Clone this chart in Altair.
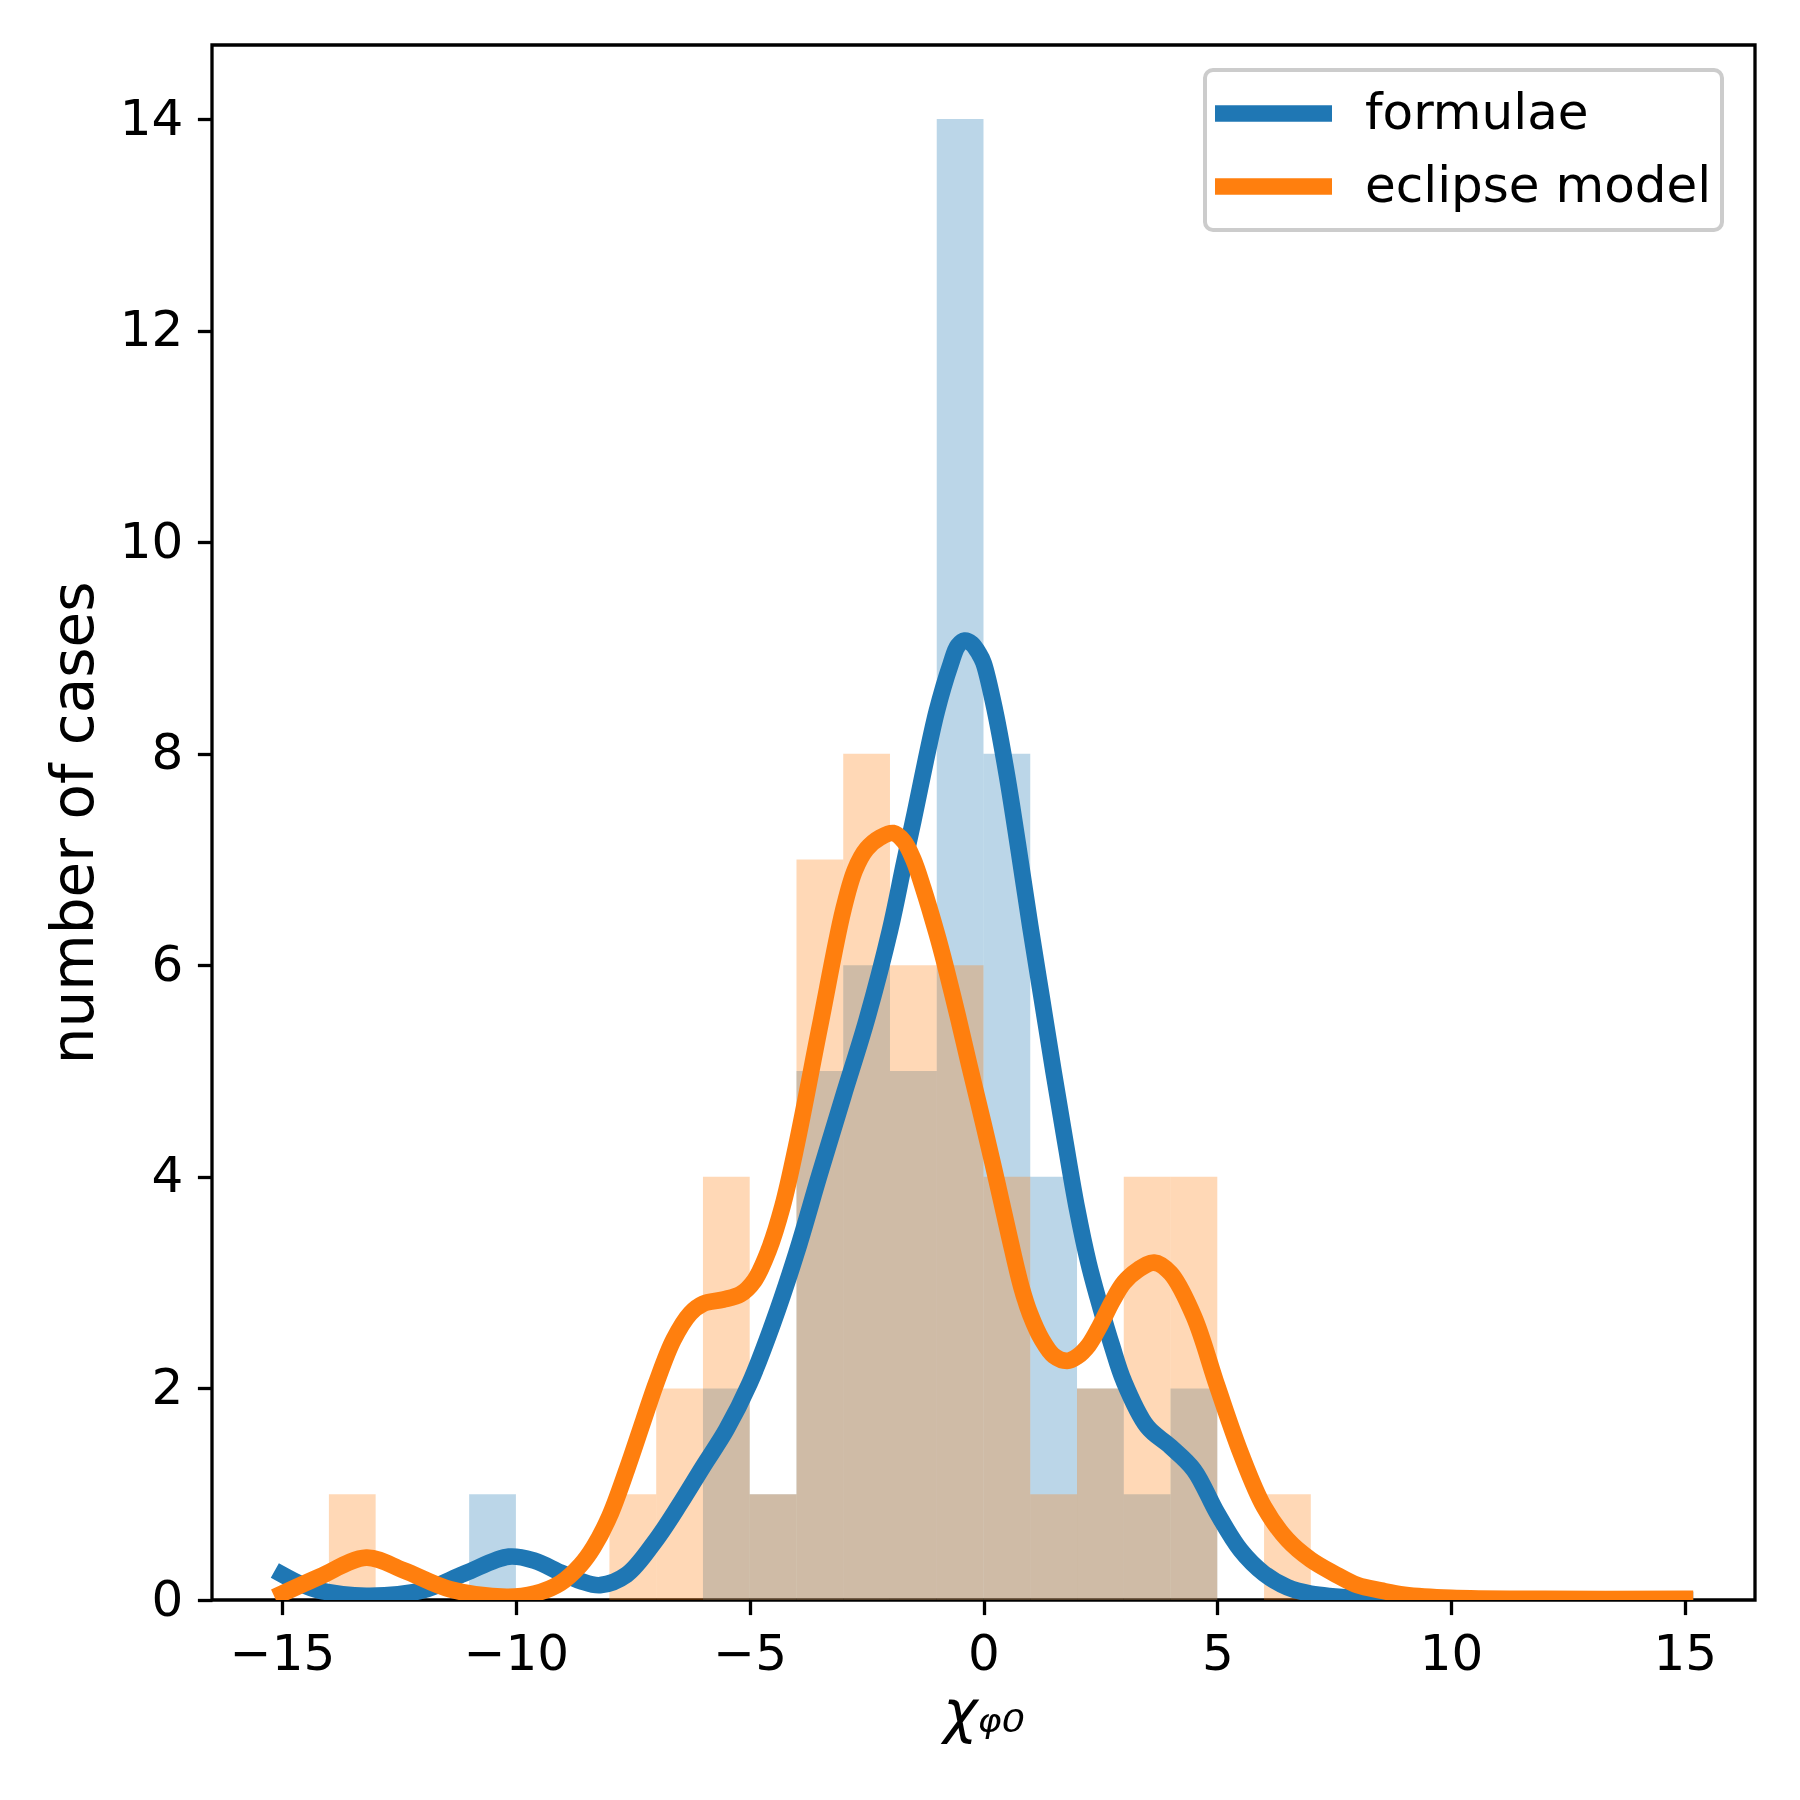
import altair as alt
import pandas as pd

# ---- histogram data (bin width 1, left edges) ----
bin_left = [-15, -14, -13, -12, -11, -10, -9, -8, -7, -6, -5, -4, -3, -2, -1, 0, 1, 2, 3, 4, 5, 6]
formulae_counts = [0, 0, 0, 0, 1, 0, 0, 0, 0, 2, 1, 5, 6, 5, 14, 8, 4, 2, 1, 2, 0, 0]
eclipse_counts = [0, 1, 0, 0, 0, 0, 0, 1, 2, 4, 1, 7, 8, 6, 6, 4, 1, 2, 4, 4, 0, 1]

# ---- smoothed curves ----
formulae_x = [-15, -14.6, -14.2, -13.2, -12.0, -11.1, -10.15, -9.6, -9.05, -8.62, -8.2, -7.63,
              -7.0, -6.49, -6.0, -5.5, -5.0, -4.5, -4.0, -3.5, -3.0, -2.5, -2.0, -1.7, -1.5, -1.0,
              -0.7, -0.55, -0.4, -0.25, -0.1, 0.0, 0.25, 0.5, 0.75, 1.0, 1.25, 1.5, 1.75, 2.0, 2.25, 2.5, 2.75,
              3.0, 3.5, 4.0, 4.5, 5.0, 5.5, 6.0, 6.5, 7.0, 8.0, 9.0, 10.0, 12.0, 15.0]
formulae_y = [0.24, 0.15, 0.09, 0.04, 0.09, 0.25, 0.41, 0.37, 0.26, 0.18, 0.14, 0.24,
              0.57, 0.91, 1.26, 1.61, 2.05, 2.62, 3.28, 4.03, 4.76, 5.48, 6.33, 6.96, 7.37, 8.4,
              8.85, 9.02, 9.07, 9.04, 8.95, 8.86, 8.4, 7.8, 7.1, 6.37, 5.68, 4.99, 4.33, 3.7, 3.18, 2.77, 2.4,
              2.07, 1.64, 1.45, 1.23, 0.82, 0.47, 0.25, 0.12, 0.06, 0.02, 0.01, 0.0, 0.0, 0.0]

eclipse_x = [-15, -14.2, -13.2, -12.4, -11.4, -10.2, -9.6, -9.05, -8.62, -8.34, -8.0, -7.63,
             -7.27, -7.0, -6.63, -6.27, -6.0, -5.57, -5.2, -4.9, -4.6, -4.3, -4.0, -3.5, -3.0,
             -2.75, -2.5, -2.2, -1.93, -1.7, -1.5, -1.29, -1.0, -0.83, -0.55, -0.3, 0.0, 0.28,
             0.55, 0.81, 1.0, 1.25, 1.5, 1.79, 2.0, 2.25, 2.5, 2.75, 3.0, 3.3, 3.65, 4.0, 4.5,
             5.0, 5.5, 6.0, 6.5, 7.0, 7.5, 8.0, 8.5, 9.0, 10.0, 12.0, 15.0]
eclipse_y = [0.06, 0.22, 0.4, 0.28, 0.1, 0.03, 0.06, 0.16, 0.33, 0.5, 0.79, 1.23,
             1.7, 2.05, 2.46, 2.71, 2.8, 2.84, 2.89, 3.02, 3.3, 3.72, 4.3, 5.42, 6.52,
             6.9, 7.1, 7.21, 7.25, 7.17, 7.0, 6.73, 6.3, 6.02, 5.52, 5.05, 4.5, 3.97,
             3.44, 2.96, 2.7, 2.46, 2.31, 2.26, 2.3, 2.41, 2.6, 2.82, 3.0, 3.12, 3.19, 3.09, 2.68,
             2.02, 1.39, 0.88, 0.57, 0.38, 0.25, 0.14, 0.09, 0.05, 0.02, 0.01, 0.01]

series_names = ["formulae", "eclipse model"]
series_colors = ["#1f77b4", "#ff7f0e"]
x_ticks = [-15, -10, -5, 0, 5, 10, 15]
y_ticks = [0, 2, 4, 6, 8, 10, 12, 14]

bars_df = pd.DataFrame({"left": bin_left, "formulae": formulae_counts, "eclipse": eclipse_counts})
lines_df = pd.concat([
    pd.DataFrame({"x": formulae_x, "y": formulae_y, "series": series_names[0], "k": 0}),
    pd.DataFrame({"x": eclipse_x, "y": eclipse_y, "series": series_names[1], "k": 1}),
], ignore_index=True)

x_scale = alt.Scale(domain=[-16.5, 16.5], nice=False, zero=False)
y_scale = alt.Scale(domain=[0, 14.7], nice=False, zero=False)
x_axis = alt.Axis(values=x_ticks, title="χᵩ₀", format="d")
y_axis = alt.Axis(values=y_ticks, title="number of cases", format="d")

base_bars = alt.Chart(bars_df).transform_calculate(right="datum.left + 1")

blue_bars = base_bars.mark_rect(fill=series_colors[0], fillOpacity=0.3).encode(
    x=alt.X("left:Q", scale=x_scale, axis=x_axis),
    x2="right:Q",
    y=alt.Y("formulae:Q", scale=y_scale, axis=y_axis),
    y2=alt.datum(0),
)
orange_bars = base_bars.mark_rect(fill=series_colors[1], fillOpacity=0.3).encode(
    x=alt.X("left:Q", scale=x_scale, axis=x_axis),
    x2="right:Q",
    y=alt.Y("eclipse:Q", scale=y_scale, axis=y_axis),
    y2=alt.datum(0),
)

lines = alt.Chart(lines_df).mark_line(
    strokeWidth=16.7, strokeCap="square", strokeJoin="round",
    interpolate="catmull-rom", clip=True
).encode(
    x=alt.X("x:Q", scale=x_scale, axis=x_axis),
    y=alt.Y("y:Q", scale=y_scale, axis=y_axis),
    color=alt.Color(
        "series:N",
        scale=alt.Scale(domain=series_names, range=series_colors),
        legend=alt.Legend(
            title=None, orient="none", legendX=993, legendY=25,
            symbolType="M-2.34,0H2.34", symbolSize=2500, symbolStrokeWidth=16.7,
            symbolOffset=25, labelOffset=58, rowPadding=6, padding=10,
            labelFontSize=50, labelFont="DejaVu Sans", labelColor="black",
            labelLimit=1000, strokeColor="#cccccc",
            fillColor="rgba(255,255,255,0.8)", cornerRadius=8,
        ),
    ),
    detail="k:N",
)

chart = alt.layer(blue_bars, orange_bars, lines).properties(
    width=1543, height=1555,
    autosize=alt.AutoSizeParams(type="none"),
    padding={"left": 204, "top": 37, "right": 37, "bottom": 184},
).configure_view(
    stroke="black", strokeWidth=3.3
).configure_axis(
    domain=False, grid=False, tickColor="black", tickWidth=3.3, tickSize=14.6,
    labelPadding=14.6, labelFont="DejaVu Sans", labelFontSize=50, labelColor="black",
    titleFont="DejaVu Sans", titleFontSize=58, titleColor="black", titleFontWeight="normal",
    labelFlush=False, labelOverlap=False,
).configure_axisX(
    titleFontStyle="italic", titlePadding=6
).configure_axisY(
    titlePadding=15
).configure_legend(
    strokeWidth=4
)

chart.save("out.html", embed_options={"renderer": "svg", "actions": False})
